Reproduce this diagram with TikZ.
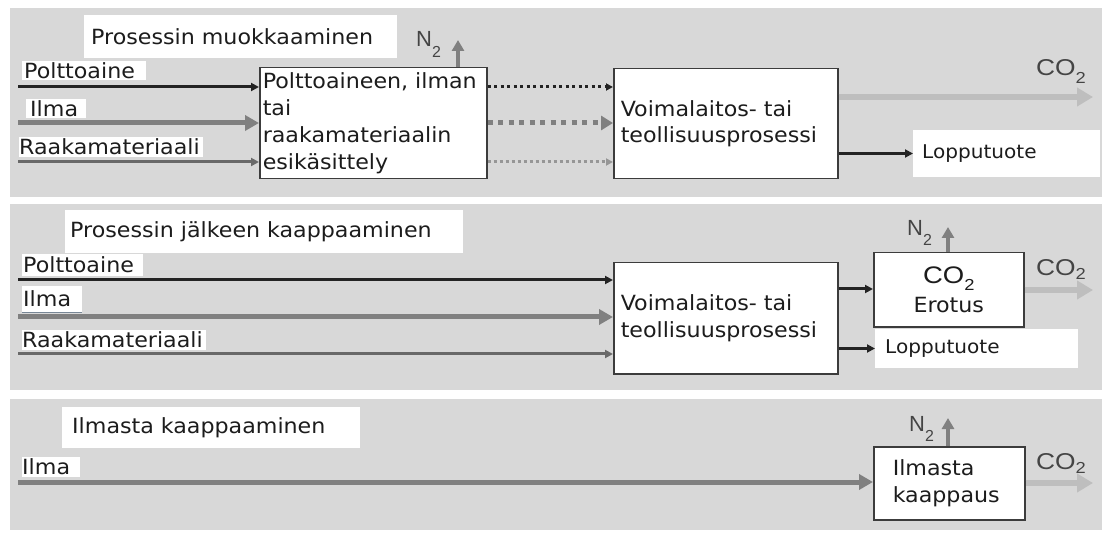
\documentclass[tikz,border=0pt]{standalone}
\usepackage{fontspec}
\setmainfont{DejaVu Sans}[FakeStretch=1.06]
\newfontfamily\chemfont{Liberation Sans}[FakeStretch=1.15]
\newfontfamily\nfont{Liberation Sans}
\usetikzlibrary{arrows.meta}
\definecolor{band}{RGB}{216,216,216}
\definecolor{ink}{RGB}{28,28,28}
\definecolor{flowblack}{RGB}{35,35,35}
\definecolor{flowgray}{RGB}{128,128,128}
\definecolor{flowdgray}{RGB}{105,105,105}
\definecolor{flowlight}{RGB}{190,190,190}
\definecolor{boxline}{RGB}{60,60,60}
\definecolor{dotlight}{RGB}{150,150,150}
\definecolor{underl}{RGB}{120,135,150}
\newcommand\molsub[2][10bp]{\raisebox{-#1}[0pt][0pt]{\fontsize{16}{16}\selectfont #2}}
\tikzset{
  procbox/.style={draw=boxline, line width=1.5bp, fill=white, inner ysep=0pt, align=left, anchor=north west},
  wlabel/.style={fill=white, inner ysep=0pt, anchor=west, align=left},
  chem/.style={font=\chemfont\fontsize{23}{23}\selectfont, text=flowblack!85, inner sep=0pt, anchor=base west},
  nchem/.style={font=\nfont\fontsize{22}{22}\selectfont, text=flowblack!85, inner sep=0pt, anchor=base west},
  blackflow/.style={draw=flowblack, line width=3bp, -{Triangle[length=8bp,width=8bp]}},
  grayflow/.style={draw=flowgray, line width=5bp, -{Triangle[length=14bp,width=15bp]}},
  dgrayflow/.style={draw=flowdgray, line width=3bp, -{Triangle[length=8bp,width=8bp]}},
  co2flow/.style={draw=flowlight, line width=6bp, -{Triangle[length=16bp,width=18bp]}},
  n2flow/.style={draw=flowgray, line width=4bp, -{Triangle[length=11bp,width=12bp]}},
  blackdot/.style={draw=flowblack, line width=3bp, dash pattern=on 3bp off 3.5bp, -{Triangle[length=7bp,width=7bp]}},
  graydot/.style={draw=flowgray, line width=5bp, dash pattern=on 5bp off 5.5bp, -{Triangle[length=12bp,width=14bp]}},
  lightdot/.style={draw=dotlight, line width=3bp, dash pattern=on 3bp off 3bp, -{Triangle[length=7bp,width=7bp]}},
  uline/.style={draw=underl, line width=1.2bp},
  lopfont/.style={font=\fontsize{19}{22}\selectfont},
}
\begin{document}
\begin{tikzpicture}[x=1bp,y=-1bp, every node/.style={font=\fontsize{21}{27}\selectfont, text=ink}]
\useasboundingbox (0,0) rectangle (1104,533);
\fill[white] (0,0) rectangle (1104,533);
\fill[band] (10,8) rectangle (1102,197);
\fill[band] (10,204) rectangle (1102,390);
\fill[band] (10,399) rectangle (1102,530);

% ---------- Panel 1 ----------
\node[wlabel, minimum height=43bp, inner xsep=7bp, text width=299bp] (t1) at (84,36.5) {Prosessin muokkaaminen};
\node[wlabel, minimum height=19bp, inner xsep=2bp, text width=120bp] (pol1) at (22,71) {Polttoaine};
\node[wlabel, minimum height=19bp, inner xsep=4bp, text width=52bp] (ilm1) at (26,109) {Ilma};
\node[wlabel, minimum height=20bp, inner xsep=0bp, text width=184bp] (raa1) at (19,147) {Raakamateriaali};
\node[procbox, minimum width=227bp, minimum height=111bp, inner xsep=3bp, text width=221bp] (b1) at (259,67) {Polttoaineen, ilman\\tai\\raakamateriaalin\\esikäsittely};
\node[procbox, minimum width=224bp, minimum height=110bp, inner xsep=7bp, text width=210bp] (b2) at (613,68) {Voimalaitos- tai\\teollisuusprosessi};
\node[wlabel, lopfont, minimum height=47bp, inner xsep=9bp, text width=169bp] (lop1) at (913,153.5) {Lopputuote};
\node[nchem] (n2a) at (416,47) {N\molsub[11bp]{2}};
\node[chem] (co2a) at (1036,76) {CO\molsub[8bp]{2}};

\coordinate (s1a) at (18,87);
\coordinate (s1b) at (18,123);
\coordinate (s1c) at (18,162);
\draw[blackflow] (s1a) -- (s1a -| b1.west);
\draw[grayflow] (s1b) -- (s1b -| b1.west);
\draw[dgrayflow] (s1c) -- (s1c -| b1.west);
\draw[blackdot] (s1a -| b1.east) -- (s1a -| b2.west);
\draw[graydot] (s1b -| b1.east) -- (s1b -| b2.west);
\draw[lightdot] (s1c -| b1.east) -- (s1c -| b2.west);
\coordinate (n1) at (458,40);
\draw[n2flow] (n1 |- b1.north) -- (n1);
\coordinate (c1) at (1093,97);
\draw[co2flow] (c1 -| b2.east) -- (c1);
\draw[blackflow] (lop1.west -| b2.east) -- (lop1.west);

% ---------- Panel 2 ----------
\node[wlabel, minimum height=43bp, inner xsep=5bp, text width=388bp] (t2) at (65,231.5) {Prosessin jälkeen kaappaaminen};
\node[wlabel, minimum height=22bp, inner xsep=1bp, text width=119bp] (pol2) at (22,265) {Polttoaine};
\node[wlabel, minimum height=26bp, inner xsep=1bp, text width=58bp] (ilm2) at (22,299) {Ilma};
\draw[uline] (ilm2.south west) -- (ilm2.south east);
\node[wlabel, minimum height=20bp, inner xsep=0bp, text width=184bp] (raa2) at (22,340) {Raakamateriaali};
\node[procbox, minimum width=224bp, minimum height=111bp, inner xsep=7bp, text width=210bp] (b3) at (613,262) {Voimalaitos- tai\\teollisuusprosessi};
\node[procbox, minimum width=150bp, minimum height=74bp, align=center, text width=140bp, inner xsep=5bp, font=\fontsize{21}{30}\selectfont] (sep) at (873,252) {{\chemfont\fontsize{24}{24}\selectfont CO\molsub[7bp]{2}}\\Erotus};
\node[wlabel, lopfont, minimum height=39bp, inner xsep=10bp, text width=183bp] (lop2) at (875,348.5) {Lopputuote};
\node[nchem] (n2b) at (907,236) {N\molsub[10bp]{2}};
\node[chem] (co2b) at (1036,276) {CO\molsub[4bp]{2}};

\coordinate (s2a) at (18,280);
\coordinate (s2b) at (18,317);
\coordinate (s2c) at (18,354);
\draw[blackflow] (s2a) -- (s2a -| b3.west);
\draw[grayflow] (s2b) -- (s2b -| b3.west);
\draw[dgrayflow] (s2c) -- (s2c -| b3.west);
\coordinate (m2) at (0,289);
\draw[blackflow] (m2 -| b3.east) -- (m2 -| sep.west);
\draw[blackflow] (lop2.west -| b3.east) -- (lop2.west);
\coordinate (n2) at (948,227);
\draw[n2flow] (n2 |- sep.north) -- (n2);
\coordinate (c2) at (1093,290);
\draw[co2flow] (c2 -| sep.east) -- (c2);

% ---------- Panel 3 ----------
\node[wlabel, minimum height=41bp, inner xsep=10bp, text width=278bp] (t3) at (62,427.5) {Ilmasta kaappaaminen};
\node[wlabel, minimum height=20bp, inner xsep=0bp, text width=58bp] (ilm3) at (22,467) {Ilma};
\node[procbox, minimum width=151bp, minimum height=73bp, inner xsep=19bp, text width=113bp, font=\fontsize{21}{28}\selectfont] (cap) at (873,446) {Ilmasta\\kaappaus};
\node[nchem] (n2c) at (909,431) {N\molsub[10bp]{2}};
\node[chem] (co2c) at (1036,469) {CO\molsub[4bp]{2}};

\coordinate (s3) at (18,482);
\draw[grayflow] (s3) -- (s3 -| cap.west);
\coordinate (n3) at (948,418);
\draw[n2flow] (n3 |- cap.north) -- (n3);
\coordinate (c3) at (1093,483);
\draw[co2flow] (c3 -| cap.east) -- (c3);
\end{tikzpicture}
\end{document}
